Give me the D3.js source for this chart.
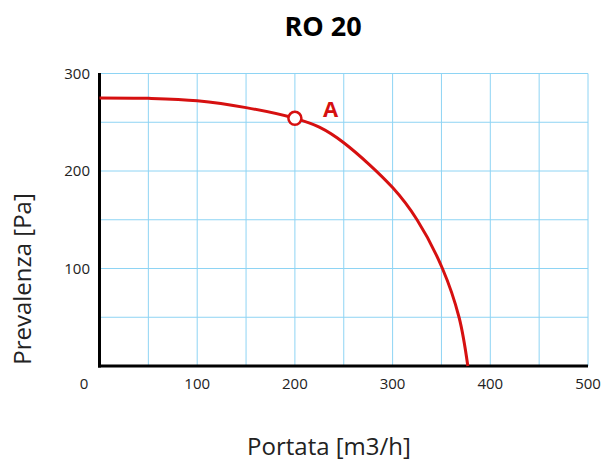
<!DOCTYPE html>
<html><head><meta charset="utf-8">
<script src="https://cdn.jsdelivr.net/npm/d3@7"></script>
<style>body{margin:0;background:#fff}svg{display:block}</style>
</head><body>
<svg id="c" width="605" height="461"></svg>
<script>
const flow = [0, 50, 100, 150, 200, 225, 250, 300, 325, 351, 368, 377];
const pressure = [275, 274.5, 272, 265, 254, 245, 229, 183, 150, 100, 50, 0];
const pointA = {x: 200, y: 254, label: "A"};
const xTicks = [100, 200, 300, 400, 500];
const yTicks = [100, 200, 300];
const xGrid = [50,100,150,200,250,300,350,400,450,500];
const yGrid = [50,100,150,200,250,300];
const title = "RO 20";
const xTitle = "Portata [m3/h]";
const yTitle = "Prevalenza [Pa]";

const svg = d3.select("#c");
const L = 99.5, R = 588, T = 73.5, B = 366;
const x = d3.scaleLinear().domain([0,500]).range([L,R]);
const y = d3.scaleLinear().domain([0,300]).range([B,T]);
const font = "'Open Sans', sans-serif";
const red = "#d61010";

svg.append("g").selectAll("line").data(xGrid).join("line")
  .attr("x1", d=>x(d)).attr("x2", d=>x(d)).attr("y1", T).attr("y2", B)
  .attr("stroke", "#8ed4f4").attr("stroke-width", 1);
svg.append("g").selectAll("line").data(yGrid).join("line")
  .attr("y1", d=>y(d)).attr("y2", d=>y(d)).attr("x1", L).attr("x2", R)
  .attr("stroke", "#8ed4f4").attr("stroke-width", 1);

// axes
svg.append("line").attr("x1", L).attr("x2", L).attr("y1", T-0.5).attr("y2", B+1.5).attr("stroke","#000").attr("stroke-width",3);
svg.append("line").attr("x1", L-1.5).attr("x2", R).attr("y1", B).attr("y2", B).attr("stroke","#000").attr("stroke-width",3);

// tick labels
svg.append("g").selectAll("text").data(xTicks).join("text")
  .attr("x", d=>x(d)).attr("y", 389).attr("text-anchor","middle")
  .attr("font-family", font).attr("font-size", 15).attr("fill","#222").text(d=>d);
svg.append("text").attr("x", 84).attr("y", 389).attr("text-anchor","middle")
  .attr("font-family", font).attr("font-size", 15).attr("fill","#222").text("0");
svg.append("g").selectAll("text").data(yTicks).join("text")
  .attr("x", 90).attr("y", d=>y(d)+5).attr("text-anchor","end")
  .attr("font-family", font).attr("font-size", 15).attr("fill","#222").text(d=>d);

// curve
const line = d3.line().x((d,i)=>x(flow[i])).y((d,i)=>y(pressure[i])).curve(d3.curveCatmullRom.alpha(0.5));
svg.append("path").datum(pressure).attr("d", line).attr("fill","none")
  .attr("stroke", red).attr("stroke-width", 3);

svg.append("circle").attr("cx", x(pointA.x)).attr("cy", y(pointA.y)).attr("r", 6.5)
  .attr("fill","#fff").attr("stroke", red).attr("stroke-width", 2.5);
svg.append("text").attr("x", x(pointA.x)+28).attr("y", y(pointA.y)-1)
  .attr("font-family", font).attr("font-weight","bold").attr("font-size", 22)
  .attr("fill", red).text(pointA.label);

svg.append("text").attr("x", 323).attr("y", 36).attr("text-anchor","middle")
  .attr("font-family", font).attr("font-weight","bold").attr("font-size", 27)
  .attr("fill","#000").text(title);
svg.append("text").attr("x", 329).attr("y", 455).attr("text-anchor","middle")
  .attr("font-family", font).attr("font-size", 24).attr("fill","#222").text(xTitle);
svg.append("text").attr("transform", "translate(31,279) rotate(-90)").attr("text-anchor","middle")
  .attr("font-family", font).attr("font-size", 24).attr("fill","#222").text(yTitle);
</script>
</body></html>
